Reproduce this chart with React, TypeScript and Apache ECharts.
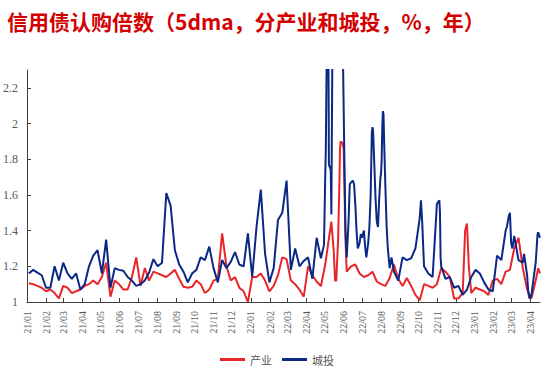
import React, { useEffect, useRef } from "react";
import * as echarts from "echarts";

const titleText = "信用债认购倍数（5dma，分产业和城投，%，年）";
const seriesNames = ["产业", "城投"];
const axisStart = "2021-01-01";
const axisEnd = "2023-04-17";
const firstWeek = "2021-01-04";
const yTicks = [1, 1.2, 1.4, 1.6, 1.8, 2, 2.2];

// weekly readings (Mondays from 2021-01-04)
const chanyeWeekly = [
  1.105, 1.1, 1.09, 1.08, 1.06, 1.07, 1.05, 1.02, 1.09, 1.08,
  1.05, 1.06, 1.07, 1.09, 1.1, 1.12, 1.1, 1.14, 1.22, 1.03,
  1.12, 1.1, 1.07, 1.07, 1.14, 1.25, 1.09, 1.19, 1.12, 1.17,
  1.16, 1.15, 1.14, 1.16, 1.18, 1.13, 1.085, 1.08, 1.085, 1.12,
  1.1, 1.05, 1.07, 1.12, 1.13, 1.385, 1.2, 1.12, 1.14, 1.08,
  1.06, 1.0, 1.14, 1.14, 1.16, 1.12, 1.06, 1.09, 1.15, 1.25,
  1.24, 1.12, 1.1, 1.07, 1.03, 1.2, 1.15, 1.115, 1.09, 1.21,
  1.38, 1.28, 1.35, 1.89, 1.17, 1.2, 1.21, 1.16, 1.14, 1.15,
  1.17, 1.115, 1.1, 1.09, 1.135, 1.21, 1.13, 1.09, 1.135, 1.09,
  1.04, 1.01, 1.1, 1.09, 1.08, 1.1, 1.19, 1.17, 1.14, 1.02,
  1.02, 1.05, 1.44, 1.05, 1.08, 1.07, 1.06, 1.04, 1.12, 1.13,
  1.1, 1.17, 1.18, 1.3, 1.36, 1.19, 1.07, 1.02, 1.12, 1.16,
];

const chengtouWeekly = [
  1.16, 1.18, 1.165, 1.15, 1.08, 1.08, 1.2, 1.12, 1.22, 1.16,
  1.13, 1.16, 1.07, 1.1, 1.2, 1.26, 1.29, 1.16, 1.35, 1.08,
  1.19, 1.18, 1.175, 1.14, 1.12, 1.09, 1.1, 1.12, 1.165, 1.24,
  1.2, 1.22, 1.61, 1.54, 1.29, 1.21, 1.17, 1.11, 1.16, 1.18,
  1.25, 1.235, 1.31, 1.19, 1.11, 1.235, 1.19, 1.225, 1.28, 1.21,
  1.2, 1.385, 1.14, 1.42, 1.63, 1.27, 1.11, 1.19, 1.46, 1.5,
  1.68, 1.18, 1.3, 1.2, 1.23, 1.25, 1.13, 1.36, 1.245, 1.7,
  1.77, 2.6, 2.6, 2.6, 1.25, 1.67, 1.55, 1.33, 1.4, 1.33,
  1.98, 1.45, 1.72, 1.65, 1.19, 1.17, 1.12, 1.25, 1.235, 1.245,
  1.3, 1.47, 1.2, 1.16, 1.14, 1.55, 1.2, 1.13, 1.14, 1.08,
  1.09, 1.04, 1.07, 1.14, 1.18, 1.16, 1.11, 1.07, 1.06, 1.26,
  1.235, 1.4, 1.5, 1.37, 1.235, 1.22, 1.15, 1.04, 1.22, 1.36,
];

// extra readings between the weekly points, at the spikes
const chanyeExtra: [string, number][] = [
  ["2022-05-12", 1.45], ["2022-05-18", 1.12], ["2022-05-20", 1.12],
  ["2022-05-25", 1.65], ["2022-05-26", 1.85], ["2022-05-27", 1.9],
  ["2022-06-01", 1.86], ["2022-06-02", 1.7], ["2022-06-04", 1.35],
  ["2022-12-16", 1.4], ["2022-12-22", 1.2], ["2023-04-14", 1.19],
];

const chengtouExtra: [string, number][] = [
  ["2022-04-30", 1.32], ["2022-05-03", 1.86], ["2022-05-05", 2.6],
  ["2022-05-07", 2.6], ["2022-05-08", 1.77], ["2022-05-11", 1.74],
  ["2022-05-12", 1.49], ["2022-05-14", 2.6], ["2022-06-02", 1.85],
  ["2022-06-04", 1.4], ["2022-06-09", 1.45], ["2022-06-11", 1.66],
  ["2022-06-16", 1.68], ["2022-06-18", 1.66], ["2022-06-22", 1.4],
  ["2022-06-24", 1.3], ["2022-06-29", 1.38], ["2022-07-01", 1.36],
  ["2022-07-06", 1.31], ["2022-07-08", 1.25], ["2022-07-13", 1.42],
  ["2022-07-15", 1.6], ["2022-07-17", 1.95], ["2022-07-19", 1.96],
  ["2022-07-21", 1.77], ["2022-07-23", 1.58], ["2022-07-27", 1.42],
  ["2022-07-29", 1.58], ["2022-07-31", 1.7], ["2022-08-02", 1.8],
  ["2022-08-03", 1.98], ["2022-08-04", 2.07], ["2022-08-05", 2.05],
  ["2022-08-06", 1.9], ["2022-08-10", 1.43], ["2022-08-12", 1.3],
  ["2022-08-18", 1.25], ["2022-10-05", 1.57], ["2022-10-07", 1.45],
  ["2022-11-02", 1.56], ["2022-11-04", 1.57], ["2022-11-05", 1.5],
  ["2022-11-06", 1.25], ["2023-02-22", 1.42], ["2023-02-25", 1.48],
  ["2023-03-01", 1.33], ["2023-03-03", 1.3], ["2023-03-22", 1.27],
  ["2023-03-29", 1.05], ["2023-03-31", 1.02], ["2023-04-13", 1.38],
  ["2023-04-14", 1.39],
];

const DAY = 86400000;
const toDate = (t: number) => new Date(t).toISOString().slice(0, 10);
const parse = (s: string) => Date.parse(s + "T00:00:00Z");

function buildDays(): string[] {
  const out: string[] = [];
  for (let t = parse(axisStart); t <= parse(axisEnd); t += DAY) out.push(toDate(t));
  return out;
}

function buildSeries(weekly: number[], extra: [string, number][]) {
  const m = new Map<string, number>();
  const t0 = parse(firstWeek);
  weekly.forEach((v, k) => m.set(toDate(t0 + k * 7 * DAY), v));
  extra.forEach(([d, v]) => m.set(d, v));
  return Array.from(m.entries()).sort((a, b) => (a[0] < b[0] ? -1 : a[0] > b[0] ? 1 : 0));
}

const isMonthStart = (_i: number, v: string) => v.slice(8, 10) === "01";

export default function App() {
  const ref = useRef<HTMLDivElement>(null);
  useEffect(() => {
    if (!ref.current) return;
    const chart = echarts.init(ref.current, undefined, { renderer: "svg" });
    const days = buildDays();
    const serif = "'Liberation Serif', 'Times New Roman', serif";
    const cjk = "'Noto Sans CJK SC', sans-serif";
    chart.setOption({
      animation: false,
      backgroundColor: "#ffffff",
      title: {
        text: titleText,
        left: 2,
        top: 5,
        textStyle: { color: "#d40000", fontSize: 21, fontWeight: "bold", fontFamily: cjk },
      },
      legend: {
        data: seriesNames,
        left: "center",
        top: 349,
        icon: "rect",
        itemWidth: 25,
        itemHeight: 3,
        itemGap: 10,
        textStyle: { color: "#595959", fontSize: 11, fontFamily: cjk },
      },
      grid: { left: 27, right: 14, top: 70, bottom: 72 },
      xAxis: {
        type: "category",
        data: days,
        boundaryGap: false,
        axisLine: { lineStyle: { color: "#404040", width: 1 } },
        axisTick: { inside: true, length: 4, interval: isMonthStart, lineStyle: { color: "#404040" } },
        axisLabel: {
          interval: isMonthStart,
          rotate: 90,
          margin: 9,
          fontSize: 10,
          fontFamily: serif,
          color: "#595959",
          formatter: (v: string) => v.slice(2, 4) + "/" + v.slice(5, 7),
        },
        splitLine: { show: false },
      },
      yAxis: {
        type: "value",
        min: 1,
        max: 2.3,
        interval: 0.2,
        axisLine: { show: true, lineStyle: { color: "#404040", width: 1 } },
        axisTick: { show: true, inside: true, length: 4, customValues: yTicks, lineStyle: { color: "#404040" } },
        axisLabel: {
          customValues: yTicks,
          margin: 9,
          fontSize: 12,
          fontFamily: serif,
          color: "#595959",
          formatter: (v: number) => String(Math.round(v * 10) / 10),
        },
        splitLine: { show: false },
      },
      series: [
        {
          name: seriesNames[0],
          type: "line",
          data: buildSeries(chanyeWeekly, chanyeExtra),
          showSymbol: false,
          symbol: "none",
          clip: true,
          lineStyle: { color: "#e8262a", width: 2 },
          itemStyle: { color: "#e8262a" },
        },
        {
          name: seriesNames[1],
          type: "line",
          data: buildSeries(chengtouWeekly, chengtouExtra),
          showSymbol: false,
          symbol: "none",
          clip: true,
          lineStyle: { color: "#0a2886", width: 2 },
          itemStyle: { color: "#0a2886" },
        },
      ],
    });
    return () => chart.dispose();
  }, []);
  return <div ref={ref} style={{ width: 554, height: 374, position: "absolute", left: 0, top: 0 }} />;
}
